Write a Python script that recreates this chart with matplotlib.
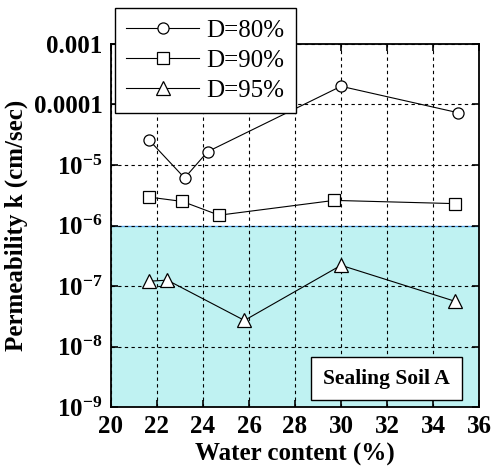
import numpy as np
import matplotlib.pyplot as plt
from matplotlib.ticker import FixedLocator, FuncFormatter

plt.rcParams['font.family'] = ['Liberation Serif', 'DejaVu Serif']
plt.rcParams['mathtext.fontset'] = 'custom'
plt.rcParams['mathtext.rm'] = 'Liberation Serif:bold'
plt.rcParams['mathtext.bf'] = 'Liberation Serif:bold'

# data
w80 = [21.65, 23.2, 24.2, 30.0, 35.1]
k80 = [2.6e-5, 6.1e-6, 1.66e-5, 2.0e-4, 7.3e-5]
w90 = [21.65, 23.1, 24.7, 29.7, 34.95]
k90 = [2.95e-6, 2.5e-6, 1.48e-6, 2.6e-6, 2.3e-6]
w95 = [21.65, 22.45, 25.8, 30.0, 34.95]
k95 = [1.2e-7, 1.25e-7, 2.7e-8, 2.2e-7, 5.6e-8]
labels = ['D=80%', 'D=90%', 'D=95%']
x_ticks = [20, 22, 24, 26, 28, 30, 32, 34, 36]
y_ticks = [1e-9, 1e-8, 1e-7, 1e-6, 1e-5, 1e-4, 1e-3]

fig = plt.figure(figsize=(4.92, 4.70), dpi=100)
ax = fig.add_axes([0.2256, 0.134, 0.748, 0.7724])

# 遮水域
ax.axhspan(1e-9, 1e-6, facecolor='#bff2f2', edgecolor='none', zorder=0)
ax.axhline(1e-6, color='#5aaaf0', lw=1.0, zorder=0.5)

mk = dict(color='black', lw=0.8, markerfacecolor='white', markeredgecolor='black',
          markeredgewidth=0.9, zorder=3)
ax.plot(w80, k80, marker='o', markersize=8, label=labels[0], **mk)
ax.plot(w90, k90, marker='s', markersize=8, label=labels[1], **mk)
ax.plot(w95, k95, marker='^', markersize=10, label=labels[2], **mk)

ax.set_yscale('log')
ax.set_xlim(20, 36)
ax.set_ylim(1e-9, 1e-3)
ax.xaxis.set_major_locator(FixedLocator(x_ticks))
ax.yaxis.set_major_locator(FixedLocator(y_ticks))
ax.yaxis.set_minor_locator(FixedLocator([]))


def yfmt(v, pos):
    e = int(round(np.log10(v)))
    if e == -3:
        return '0.001'
    if e == -4:
        return '0.0001'
    return r'$\mathbf{10^{%d}}$' % e


ax.yaxis.set_major_formatter(FuncFormatter(yfmt))
ax.tick_params(axis='both', direction='in', length=5, width=1.2,
               top=True, right=True, labelsize=18, pad=6)
for lab in ax.get_xticklabels() + ax.get_yticklabels():
    lab.set_fontweight('bold')

ax.grid(True, which='major', color='black', linestyle=(0, (3, 3)), lw=0.8)
for s in ax.spines.values():
    s.set_linewidth(1.3)

ax.set_xlabel('Water content (%)', fontsize=18, fontweight='bold', labelpad=3)
ax.set_ylabel('Permeability k (cm/sec)', fontsize=18, fontweight='bold', labelpad=4)

leg = ax.legend(loc='upper left', bbox_to_anchor=(0.011, 1.099), borderaxespad=0,
                fontsize=18, fancybox=False, framealpha=1, edgecolor='black',
                handlelength=2.9, labelspacing=0.3, borderpad=0.45, handletextpad=0.3)
leg.get_frame().set_linewidth(1.0)
leg.set_zorder(5)

ax.text(0.749, 0.0785, 'Sealing Soil A', transform=ax.transAxes, fontsize=15.5,
        fontweight='bold', ha='center', va='center', zorder=5,
        bbox=dict(boxstyle='square,pad=0.55', facecolor='white', edgecolor='black', lw=1.0))

fig.savefig('out.png', dpi=100)
